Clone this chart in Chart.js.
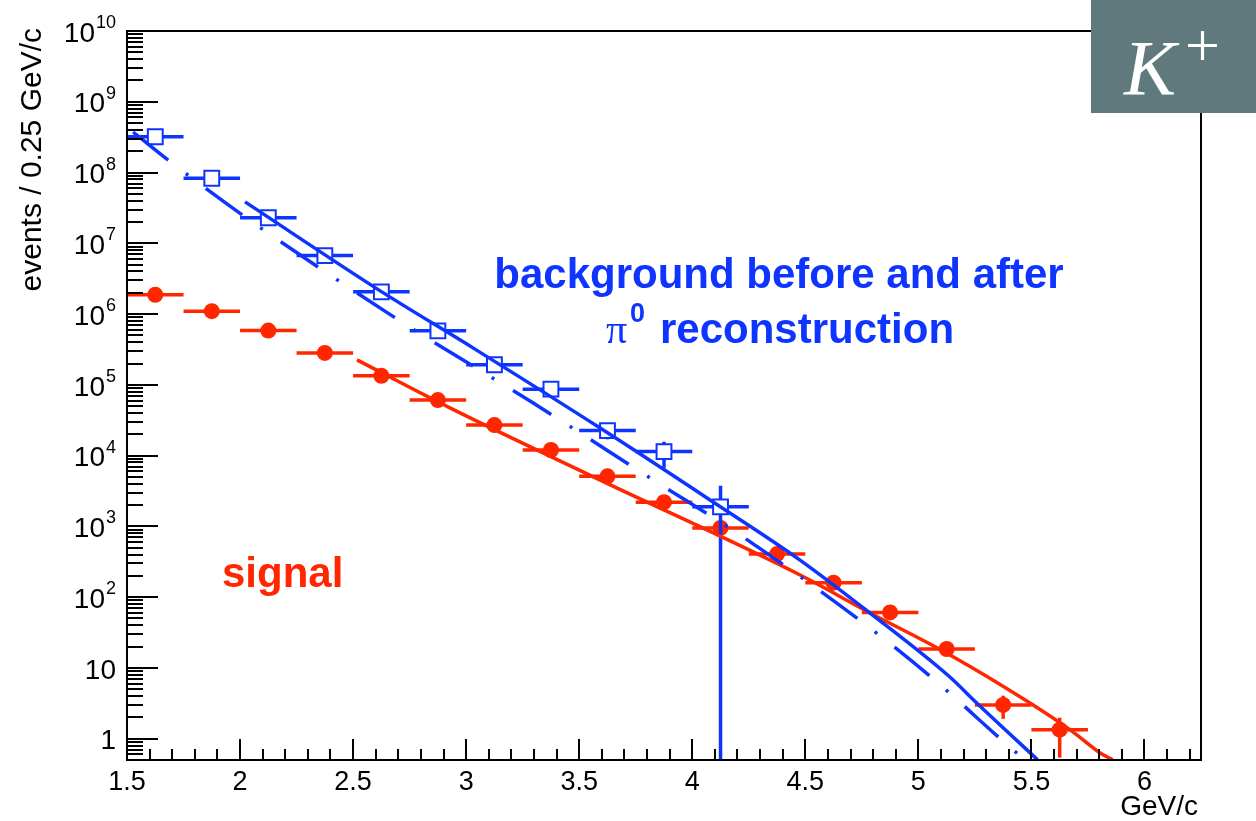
<!DOCTYPE html>
<html><head><meta charset="utf-8">
<script src="https://cdn.jsdelivr.net/npm/chart.js@4/dist/chart.umd.min.js"></script>
<style>html,body{margin:0;padding:0;background:#fff;}canvas{display:block;}</style>
</head><body>
<canvas id="c" width="1256" height="821"></canvas>
<script>
// ---- data ----
const binHalfWidth = 0.125;

// background points (open squares)
const bgX = [1.625, 1.875, 2.125, 2.375, 2.625, 2.875, 3.125, 3.375, 3.625, 3.875, 4.125];
const bgY = [3.2e8, 8.3e7, 2.3e7, 6.7e6, 2.06e6, 5.8e5, 1.92e5, 8.7e4, 2.26e4, 1.14e4, 1.89e3];
const bgYLow  = [null, null, null, null, null, null, null, null, 1.7e4, 6.7e3, 0];
const bgYHigh = [null, null, null, null, null, null, null, null, 2.9e4, 1.57e4, 3.74e3];

// signal points (filled circles)
const sigX = [1.625, 1.875, 2.125, 2.375, 2.625, 2.875, 3.125, 3.375, 3.625, 3.875, 4.125, 4.375, 4.625, 4.875, 5.125, 5.375, 5.625];
const sigY = [1.87e6, 1.1e6, 5.85e5, 2.83e5, 1.34e5, 6.1e4, 2.7e4, 1.2e4, 5.1e3, 2.2e3, 950, 406, 160, 60.8, 18.5, 3.0, 1.34];
const sigYLow  = [null, null, null, null, null, null, null, null, null, null, null, null, null, null, null, 1.91, 0.54];
const sigYHigh = [null, null, null, null, null, null, null, null, null, null, null, null, null, null, null, 4.05, 1.98];

// fitted curves
const bgFitBeforeX = [1.527, 1.681, 2.022, 2.384, 2.742, 3.295, 3.834, 4.210, 4.727, 5.059, 5.382, 5.470];
const bgFitBeforeY = [3.74e8, 1.51e8, 2.36e7, 3.82e6, 6.8e5, 5.57e4, 4.4e3, 760, 51, 7.3, 0.88, 0.505];
const bgFitAfterX = [2.022, 2.627, 3.030, 3.591, 4.077, 4.475, 4.785, 5.138, 5.258, 5.527];
const bgFitAfterY = [3.85e7, 2.06e6, 3.33e5, 2.47e4, 2.38e3, 337, 60, 7.5, 3.2, 0.505];
const sigFitX = [2.517, 2.928, 3.591, 4.475, 4.785, 5.138, 5.492, 5.682, 5.802, 5.859];
const sigFitY = [2.25e5, 4.73e4, 4.55e3, 207, 60.2, 15.4, 3.22, 1.26, 0.634, 0.505];

// axis tick labels
const xTickLabels = ['1.5', '2', '2.5', '3', '3.5', '4', '4.5', '5', '5.5', '6'];
const yTickExponents = [0, 1, 2, 3, 4, 5, 6, 7, 8, 9, 10];

const BLUE = 'rgb(14,52,255)';
const RED = 'rgb(255,38,0)';
const SANS = '"Liberation Sans", Arial, Helvetica, sans-serif';
const SERIF = '"Liberation Serif", "Times New Roman", serif';
const LW = 3.5;

const pts = (xs, ys) => xs.map((x, i) => ({ x: x, y: ys[i] }));

const errInfo = {
  bg:  { x: bgX,  y: bgY,  lo: bgYLow,  hi: bgYHigh,  color: BLUE },
  sig: { x: sigX, y: sigY, lo: sigYLow, hi: sigYHigh, color: RED }
};

const errorBars = {
  id: 'errorBars',
  beforeDatasetDraw(chart, args) {
    const ds = chart.data.datasets[args.index];
    const e = errInfo[ds.label];
    if (!e) return;
    const ctx = chart.ctx, a = chart.chartArea, xs = chart.scales.x, ys = chart.scales.y;
    ctx.save();
    ctx.beginPath(); ctx.rect(a.left, a.top, a.right - a.left, a.bottom - a.top); ctx.clip();
    ctx.strokeStyle = e.color; ctx.lineWidth = LW; ctx.lineCap = 'butt';
    e.x.forEach((xv, i) => {
      const px = xs.getPixelForValue(xv), py = ys.getPixelForValue(e.y[i]);
      ctx.beginPath();
      ctx.moveTo(xs.getPixelForValue(xv - binHalfWidth), py);
      ctx.lineTo(xs.getPixelForValue(xv + binHalfWidth), py);
      ctx.stroke();
      const hi = e.hi[i], lo = e.lo[i];
      if (hi != null) {
        const pLo = (lo != null && lo > 0) ? ys.getPixelForValue(lo) : a.bottom;
        ctx.beginPath();
        ctx.moveTo(px, ys.getPixelForValue(hi));
        ctx.lineTo(px, pLo);
        ctx.stroke();
      }
    });
    ctx.restore();
  }
};

const rootFrame = {
  id: 'rootFrame',
  afterDraw(chart) {
    const ctx = chart.ctx, a = chart.chartArea, xs = chart.scales.x, ys = chart.scales.y;
    ctx.save();
    ctx.strokeStyle = '#000'; ctx.lineWidth = 2;
    ctx.strokeRect(a.left, a.top, a.right - a.left, a.bottom - a.top);
    // y ticks (inside)
    ctx.beginPath();
    for (let k = -1; k <= 10; k++) {
      for (let m = 1; m <= 9; m++) {
        const v = m * Math.pow(10, k);
        if (v < ys.min * 0.999 || v > ys.max * 1.001) continue;
        const py = Math.round(ys.getPixelForValue(v));
        const len = (m === 1) ? 31 : 16;
        ctx.moveTo(a.left, py); ctx.lineTo(a.left + len, py);
      }
    }
    // x ticks (inside)
    for (let i = 15; i <= 62; i++) {
      const v = i / 10;
      if (v > xs.max) break;
      const px = Math.round(xs.getPixelForValue(v));
      const len = (i % 5 === 0) ? 21 : 11;
      ctx.moveTo(px, a.bottom); ctx.lineTo(px, a.bottom - len);
    }
    ctx.stroke();

    ctx.fillStyle = '#000';
    // x tick labels
    ctx.font = '27px ' + SANS; ctx.textAlign = 'center'; ctx.textBaseline = 'alphabetic';
    xTickLabels.forEach(t => {
      ctx.fillText(t, xs.getPixelForValue(parseFloat(t)), 790);
    });
    // y tick labels
    const rightEdge = 116;
    yTickExponents.forEach(k => {
      const py = ys.getPixelForValue(Math.pow(10, k));
      ctx.textAlign = 'right'; ctx.textBaseline = 'middle';
      if (k === 0 || k === 1) {
        ctx.font = '28px ' + SANS;
        ctx.fillText(k === 0 ? '1' : '10', rightEdge, py + 3);
      } else {
        ctx.font = '18px ' + SANS;
        const ex = String(k);
        const ew = ctx.measureText(ex).width;
        ctx.fillText(ex, rightEdge, py - 8);
        ctx.font = '28px ' + SANS;
        ctx.fillText('10', rightEdge - ew - 1, py + 3);
      }
    });
    // y title
    ctx.save();
    ctx.translate(41, 28); ctx.rotate(-Math.PI / 2);
    ctx.font = '30px ' + SANS; ctx.textAlign = 'right'; ctx.textBaseline = 'alphabetic';
    ctx.fillText('events / 0.25 GeV/c', 0, 0);
    ctx.restore();
    // x title
    ctx.font = '28px ' + SANS; ctx.textAlign = 'right'; ctx.textBaseline = 'alphabetic';
    ctx.fillText('GeV/c', 1198, 815);

    // annotations
    ctx.fillStyle = BLUE; ctx.textBaseline = 'alphabetic';
    ctx.font = 'bold 42px ' + SANS; ctx.textAlign = 'center';
    ctx.fillText('background before and after', 779, 288);
    ctx.textAlign = 'left';
    ctx.font = '42px ' + SERIF;
    ctx.fillText('\u03C0', 606, 343);
    ctx.font = 'bold 27px ' + SANS;
    ctx.fillText('0', 630, 322);
    ctx.font = 'bold 42px ' + SANS;
    ctx.fillText('reconstruction', 660, 343);

    ctx.fillStyle = RED;
    ctx.font = 'bold 42px ' + SANS;
    ctx.fillText('signal', 222, 587);

    // K+ box
    ctx.fillStyle = '#5f797c';
    ctx.fillRect(1091, 0, 165, 113);
    ctx.fillStyle = '#fff';
    ctx.font = 'italic 78px ' + SERIF;
    ctx.fillText('K', 1124, 94);
    ctx.font = '62px ' + SERIF;
    ctx.fillText('+', 1185, 66);
    ctx.restore();
  }
};

new Chart(document.getElementById('c'), {
  type: 'scatter',
  data: {
    datasets: [
      { label: 'fitBefore', data: pts(bgFitBeforeX, bgFitBeforeY), showLine: true, pointRadius: 0,
        borderColor: BLUE, borderWidth: LW, borderDash: [45, 22, 3, 22], cubicInterpolationMode: 'monotone', order: 1 },
      { label: 'fitAfter', data: pts(bgFitAfterX, bgFitAfterY), showLine: true, pointRadius: 0,
        borderColor: BLUE, borderWidth: LW, cubicInterpolationMode: 'monotone', order: 2 },
      { label: 'sigFit', data: pts(sigFitX, sigFitY), showLine: true, pointRadius: 0,
        borderColor: RED, borderWidth: LW, cubicInterpolationMode: 'monotone', order: 3 },
      { label: 'bg', data: pts(bgX, bgY), showLine: false, pointStyle: 'rect', pointRadius: 10.5,
        backgroundColor: '#fff', borderColor: BLUE, borderWidth: 2, order: 4 },
      { label: 'sig', data: pts(sigX, sigY), showLine: false, pointStyle: 'circle', pointRadius: 8,
        backgroundColor: RED, borderColor: RED, borderWidth: 0, order: 5 }
    ]
  },
  options: {
    responsive: false,
    animation: false,
    events: [],
    devicePixelRatio: 1,
    layout: { padding: { left: 127, top: 31, right: 55, bottom: 61 } },
    plugins: { legend: { display: false }, tooltip: { enabled: false } },
    scales: {
      x: { type: 'linear', min: 1.5, max: 6.25, display: false },
      y: { type: 'logarithmic', min: 0.5, max: 1e10, display: false }
    }
  },
  plugins: [errorBars, rootFrame]
});
</script>
</body></html>
